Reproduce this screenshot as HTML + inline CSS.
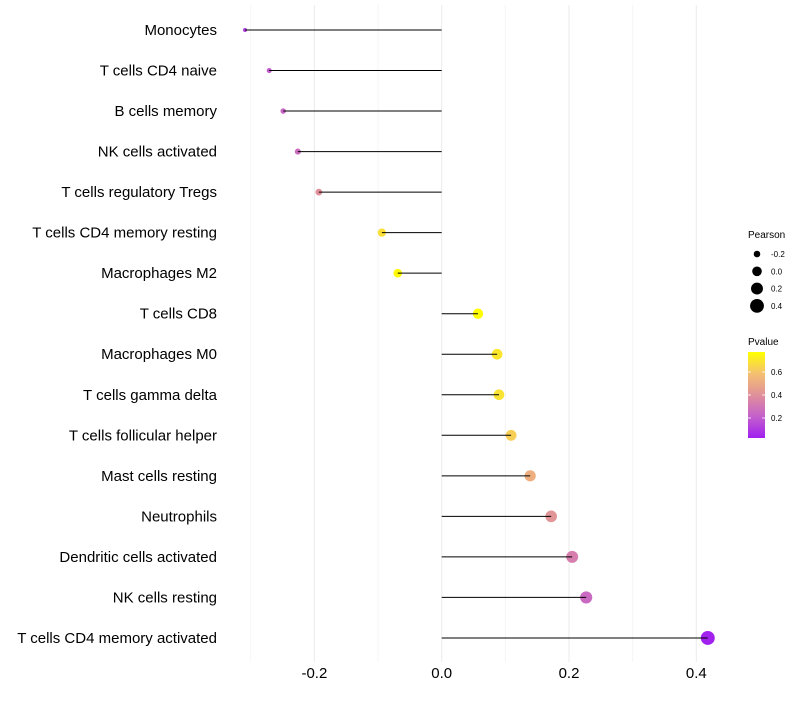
<!DOCTYPE html>
<html><head><meta charset="utf-8"><style>
body{margin:0;background:#fff;font-family:"Liberation Sans",sans-serif}
svg text{font-family:"Liberation Sans",sans-serif}
</style></head><body>
<svg id="chart" width="800" height="700" viewBox="0 0 800 700">
<defs><linearGradient id="pg" x1="0" y1="1" x2="0" y2="0">
<stop offset="0" stop-color="#A020F0"/><stop offset="0.25" stop-color="#C460CC"/><stop offset="0.5" stop-color="#E0909A"/><stop offset="0.75" stop-color="#F4C070"/><stop offset="1" stop-color="#FFFF00"/></linearGradient></defs>
<g id="grid"></g>
<g id="points"></g>
<g id="stems"></g>
<g id="ylabels"></g>
<g id="xlabels"></g>
<g>
<text x="748" y="238" font-size="10">Pearson</text>
<g id="sizeleg"></g>
</g>
<g>
<text x="748" y="345" font-size="10">Pvalue</text>
<rect x="748" y="352" width="17" height="86" fill="url(#pg)"/>
<g id="colleg"></g>
</g>
</svg>
<script>
const cells=["Monocytes","T cells CD4 naive","B cells memory","NK cells activated","T cells regulatory  Tregs ","T cells CD4 memory resting","Macrophages M2","T cells CD8","Macrophages M0","T cells gamma delta","T cells follicular helper","Mast cells resting","Neutrophils","Dendritic cells activated","NK cells resting","T cells CD4 memory activated"];
const pearson=[-0.309,-0.271,-0.249,-0.226,-0.193,-0.094,-0.069,0.057,0.087,0.090,0.109,0.139,0.172,0.205,0.227,0.418];
const pvalue=[0.12,0.20,0.24,0.26,0.40,0.68,0.76,0.78,0.70,0.69,0.63,0.52,0.42,0.33,0.25,0.03];
const xTicks=[-0.2,0.0,0.2,0.4];
const xTickLabels=["-0.2","0.0","0.2","0.4"];
const sizeLegVals=[-0.2,0.0,0.2,0.4];
const colLegVals=[0.2,0.4,0.6];

const NS="http://www.w3.org/2000/svg";
const x=v=>441.7+v*636.5;
const y=i=>30+i*40.53;
const r=v=>Math.sqrt(Math.max(1,23.1+61.6*v));
const pMin=0.026,pMax=0.774;
const stops=[[160,32,240],[196,96,204],[224,144,154],[244,192,112],[255,255,0]];
function col(p){
  let t=Math.min(1,Math.max(0,(p-pMin)/(pMax-pMin)))*(stops.length-1);
  let k=Math.min(stops.length-2,Math.floor(t)),u=t-k;
  const a=stops[k],b=stops[k+1];
  return `rgb(${Math.round(a[0]+(b[0]-a[0])*u)},${Math.round(a[1]+(b[1]-a[1])*u)},${Math.round(a[2]+(b[2]-a[2])*u)})`;
}
function mk(tag,attrs,parent){const e=document.createElementNS(NS,tag);for(const k in attrs)e.setAttribute(k,attrs[k]);parent.appendChild(e);return e;}
const grid=document.getElementById('grid');
for(let v=-0.3;v<=0.45;v+=0.1){
  const major=Math.abs(Math.round(v*10))%2===0;
  const l=mk('line',{x1:x(v),x2:x(v),y1:5,y2:662,stroke:major?'#ebebeb':'#f3f3f3','stroke-width':major?1:0.8},grid);
  
  
}
const pts=document.getElementById('points');
const stems=document.getElementById('stems');
const yl=document.getElementById('ylabels');
cells.forEach((c,i)=>{
  const pt=mk('circle',{cx:x(pearson[i]),cy:y(i),r:r(pearson[i]),fill:col(pvalue[i])},pts);
  
  
  const seg=mk('line',{x1:x(0),x2:x(pearson[i]),y1:y(i),y2:y(i),stroke:'#000','stroke-width':1},stems);
  
  
  const t=mk('text',{x:217,y:y(i)+5,'text-anchor':'end','font-size':15,fill:'#000'},yl);
  t.textContent=c;
  
  
});
const xl=document.getElementById('xlabels');
xTicks.forEach((v,i)=>{
  const t=mk('text',{x:x(v),y:678,'text-anchor':'middle','font-size':15,fill:'#000'},xl);
  t.textContent=xTickLabels[i];
  
  
});
const sl=document.getElementById('sizeleg');
sizeLegVals.forEach((v,i)=>{
  const cy=254+i*17.3;
  const c=mk('circle',{cx:757,cy:cy,r:r(v),fill:'#000'},sl);
  
  
  const t=mk('text',{x:771,y:cy+3,'font-size':8,fill:'#000'},sl);
  t.textContent=v.toFixed(1);
  
  
});
const cl=document.getElementById('colleg');
colLegVals.forEach(v=>{
  const cy=438-(v-pMin)/(pMax-pMin)*86;
  const tk=mk('line',{x1:748,x2:751,y1:cy,y2:cy,stroke:'#fff','stroke-width':0.8},cl);
  
  
  const tk2=mk('line',{x1:762,x2:765,y1:cy,y2:cy,stroke:'#fff','stroke-width':0.8},cl);
  
  
  const t=mk('text',{x:771,y:cy+3,'font-size':8,fill:'#000'},cl);
  t.textContent=v.toFixed(1);
  
  
});
</script>
</body></html>
